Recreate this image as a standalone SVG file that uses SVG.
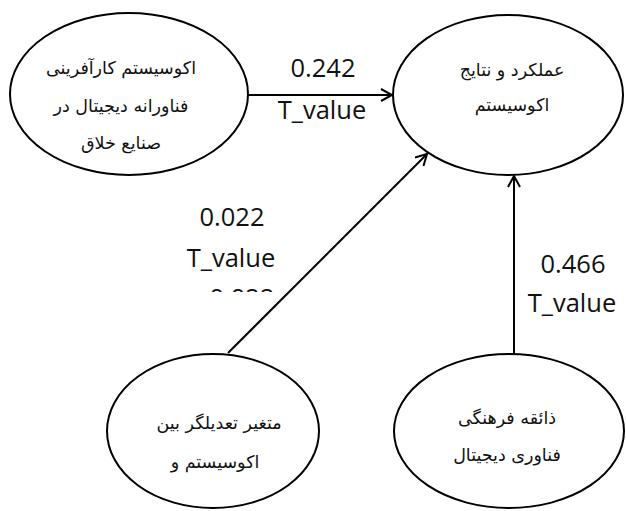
<svg xmlns="http://www.w3.org/2000/svg" width="626" height="511" viewBox="0 0 626 511">
  <style>
    .node ellipse { fill: #ffffff; stroke: #000000; stroke-width: 2; }
    .fa { font-family: "DejaVu Sans", "Noto Sans", serif; font-size: 17.5px; fill: #111111; text-anchor: middle; direction: rtl; }
    .num { font-family: "Open Sans", "Noto Sans", sans-serif; font-size: 25.5px; fill: #111111; text-anchor: middle; }
    .edge { stroke: #000000; stroke-width: 2; fill: none; }
  </style>
  <defs>
    <marker id="arrow" markerWidth="14" markerHeight="14" refX="12" refY="7" orient="auto" markerUnits="userSpaceOnUse">
      <path d="M1,1 L12,7 L1,13" fill="none" stroke="#000000" stroke-width="2"/>
    </marker>
    <clipPath id="cutoff">
      <rect x="150" y="280" width="160" height="12"/>
    </clipPath>
  </defs>

  <g id="connectors">
    <line class="edge" x1="248" y1="95" x2="392" y2="95" marker-end="url(#arrow)"/>
    <line class="edge" x1="228" y1="353" x2="427" y2="154" marker-end="url(#arrow)"/>
    <line class="edge" x1="514" y1="354" x2="514" y2="176" marker-end="url(#arrow)"/>
  </g>

  <g id="labels">
    <text class="num" x="323" y="77">0.242</text>
    <text class="num" x="322" y="119">T_value</text>
    <text class="num" x="232" y="226">0.022</text>
    <text class="num" x="231" y="267">T_value</text>
    <text class="num" x="242" y="307" clip-path="url(#cutoff)">0.022</text>
    <text class="num" x="573" y="273">0.466</text>
    <text class="num" x="572" y="312">T_value</text>
  </g>

  <g id="node-ecosystem" class="node">
    <ellipse cx="129" cy="94" rx="119" ry="81"/>
    <text class="fa" x="121" y="74">اکوسیستم کارآفرینی</text>
    <text class="fa" x="121" y="112">فناورانه دیجیتال در</text>
    <text class="fa" x="121" y="149">صنایع خلاق</text>
  </g>

  <g id="node-performance" class="node">
    <ellipse cx="508" cy="95" rx="115" ry="80"/>
    <text class="fa" x="512" y="76">عملکرد و نتایج</text>
    <text class="fa" x="512" y="111">اکوسیستم</text>
  </g>

  <g id="node-moderator" class="node">
    <ellipse cx="213" cy="431" rx="106" ry="77"/>
    <text class="fa" x="219" y="429">متغیر تعدیلگر بین</text>
    <text class="fa" x="215" y="468">اکوسیستم و</text>
  </g>

  <g id="node-taste" class="node">
    <ellipse cx="509" cy="431" rx="115" ry="77"/>
    <text class="fa" x="507" y="424">ذائقه فرهنگی</text>
    <text class="fa" x="507" y="461">فناوری دیجیتال</text>
  </g>
</svg>
